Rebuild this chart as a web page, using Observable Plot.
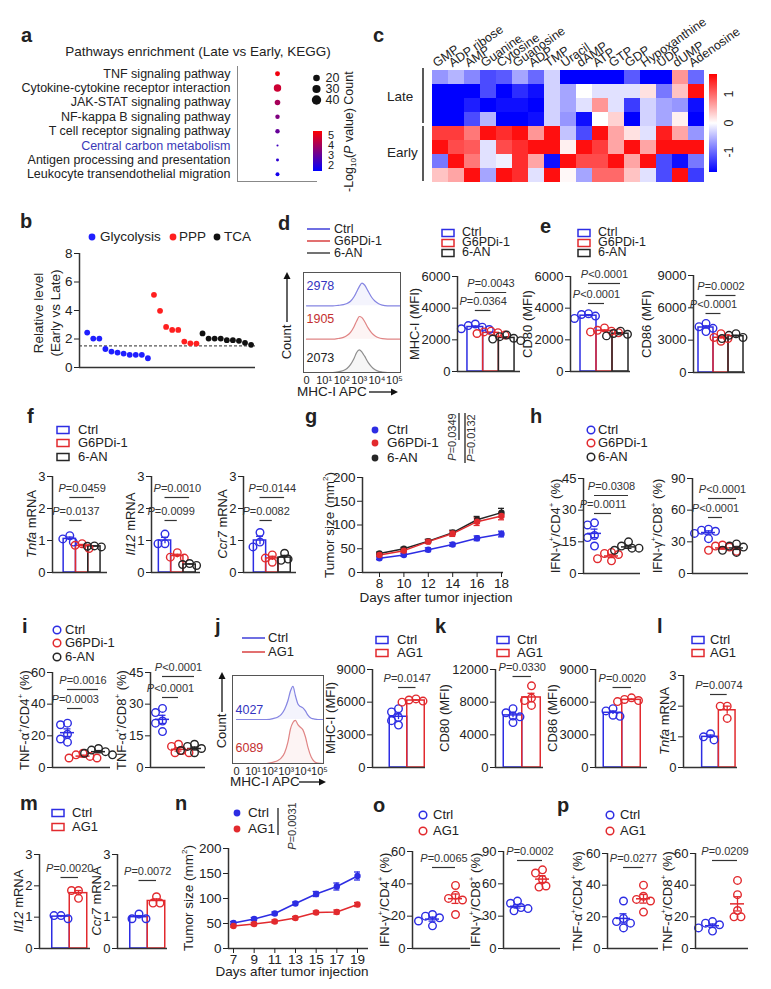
<!DOCTYPE html>
<html>
<head>
<meta charset="utf-8">
<script src="https://cdn.jsdelivr.net/npm/d3@7"></script>
<script src="https://cdn.jsdelivr.net/npm/@observablehq/plot@0.6"></script>
<style>
html,body{margin:0;padding:0;background:#fff;}
#fig{position:relative;width:771px;height:989px;overflow:hidden;background:#fff;font-family:"Liberation Sans",Arial,Helvetica,sans-serif;color:#222;}
#fig .t{position:absolute;white-space:nowrap;line-height:0.85;}
</style>
</head>
<body>
<div id="fig"></div>
<script>
// ================= DATA =================
// a: KEGG enrichment
const pathways = ["TNF signaling pathway","Cytokine-cytokine receptor interaction","JAK-STAT signaling pathway","NF-kappa B signaling pathway","T cell receptor signaling pathway","Central carbon metabolism","Antigen processing and presentation","Leukocyte transendothelial migration"];
const pathwayCount = [11, 25, 14, 9, 9, 2, 4, 7];
const pathwayLogP = [5.2, 4.6, 4.0, 3.4, 3.0, 2.4, 2.1, 1.7];
const countLegend = [20, 30, 40];
const logPTicks = [5, 4, 3, 2];
// c: heatmap
const metabolites = ["GMP","ADP ribose","AMP","Guanine","Cytosine","Guanosine","ADP","TMP","Uracil","dAMP","ATP","GTP","GDP","Hypoxanthine","UDP","dUMP","Adenosine"];
const heatGroups = ["Late","Early"];
const heatValues = [
 [-0.7,-0.5,-0.8,-1.2,-1.1,-0.6,-1.0,-0.3,-1.7,-1.7,-1.7,-1.7,-1.1,-1.7,-1.7,0.7,-1.0],
 [-1.7,-1.7,-1.7,-1.2,-1.7,-1.4,-1.6,-0.3,-0.6,0.0,-0.2,-0.2,-0.2,0.2,-0.9,0.4,1.6],
 [-1.7,-1.7,-1.5,-1.7,-1.6,-1.6,-1.7,-0.3,-0.6,-0.2,0.7,-0.2,-1.3,-0.3,-0.6,-0.7,-1.6],
 [-1.7,-1.7,-1.2,-0.5,-1.7,-1.7,-1.6,-0.3,-0.7,-1.6,0.0,0.3,-1.7,-0.3,-0.6,0.1,-1.7],
 [1.3,1.3,0.9,1.6,1.4,1.6,0.7,1.6,-0.4,-1.2,1.6,0.6,0.2,-0.2,1.5,0.6,-0.7],
 [1.6,1.2,1.1,-0.2,1.2,1.4,1.6,1.6,0.1,1.6,1.3,0.6,1.6,0.6,1.6,1.6,1.6],
 [-0.9,1.6,0.9,-0.2,-0.1,1.4,0.6,-1.6,1.6,1.2,1.2,1.6,0.6,1.6,-1.2,-1.6,-0.9],
 [0.4,0.6,1.6,-0.6,1.6,1.4,-0.2,1.6,0.05,-0.6,1.0,1.0,0.4,-0.2,-1.2,1.6,-1.3]
];
const heatTicks = [1, 0, -1];
// b
const pathwayGroups = ["Glycolysis","PPP","TCA"];
const glycolysis = [2.45,2.03,2.03,1.3,1.12,1.05,0.98,0.89,0.89,0.89,0.65];
const ppp = [5.1,3.98,2.85,2.64,2.64,1.82,1.7,1.68];
const tca = [2.39,2.03,2.03,2.03,1.92,1.92,1.87,1.73,1.59];
const cutoff = 1.52;
const bTicks = [0,2,4,6,8];
// groups
const groupsG6 = ["Ctrl","G6PDi-1","6-AN"];
const groupsAG1 = ["Ctrl","AG1"];
// d
const histTicks = [0,1,2,3,4,5];
const dHistX = [0,1.5,1.8,2.1,2.3,2.5,2.7,2.85,3.0,3.15,3.3,3.5,3.7,3.9,4.1,4.3,4.6,5.34];
const dHistCtrl = [0,0,0.02,0.05,0.1,0.2,0.4,0.62,0.85,1.0,0.92,0.65,0.38,0.2,0.09,0.03,0,0];
const dHistG6 = [0,0,0.03,0.08,0.16,0.3,0.55,0.8,1.0,0.95,0.78,0.5,0.28,0.14,0.06,0.02,0,0];
const dHist6AN = [0,0,0.03,0.09,0.18,0.35,0.62,0.88,1.0,0.9,0.72,0.45,0.25,0.12,0.05,0.02,0,0];
const dMFI = [2978, 1905, 2073];
const dMHCI = [[3000,2700,2800,2650,2900],[2550,2450,2300,2400,2500],[2300,2100,1950,2200,2050]];
const dP = ["P=0.0043","P=0.0364"];
// e
const eCD80 = [[3600,3650,3350,3500],[2750,2450,2550,2600,2500],[2400,2550,2250,2350]];
const eCD80P = ["P<0.0001","P<0.0001"];
const eCD86 = [[4550,4250,4100,3800],[3600,3250,3150,2900],[3450,3600,3250,3150]];
const eCD86P = ["P=0.0002","P<0.0001"];
// f
const fTnfa = [[1.05,1.15,0.95],[0.85,0.9,0.75],[0.82,0.8,0.83]];
const fTnfaP = ["P=0.0459","P=0.0137"];
const fIl12 = [[1.2,0.9,0.9],[0.62,0.48,0.45],[0.28,0.25,0.22]];
const fIl12P = ["P=0.0010","P=0.0099"];
const fCcr7 = [[1.25,0.8,0.95],[0.55,0.32,0.45],[0.6,0.38,0.42]];
const fCcr7P = ["P=0.0144","P=0.0082"];
// g
const gDays = [8,10,12,14,16,18];
const gCtrl = [30,37,48,59,72,81];
const gCtrlSem = [3,3,4,4,5,6];
const gG6 = [37,46,65,82,107,119];
const gG6Sem = [3,4,4,6,8,8];
const g6AN = [40,50,66,84,111,126];
const g6ANSem = [3,3,4,5,7,9];
const gP = ["P=0.0349","P=0.0132"];
const tumorTicks = [0,50,100,150,200];
// h
const hCD4 = [[24,23,18,17,13],[10,9.5,9,7,6],[15,13,12,11,12]];
const hCD4P = ["P=0.0308","P=0.0011"];
const hCD8 = [[42,41,40,38,33],[27,26,25,22,21],[28,26,25,22,20]];
const hCD8P = ["P<0.0001","P<0.0001"];
// i
const iCD4 = [[28,27,21,18,16],[9,8,7,6,6],[12,11,10,9,8]];
const iCD4P = ["P=0.0016","P=0.0003"];
const iCD8 = [[28,26,22,21,17],[11,10,8,7,7],[11,10,9,8,7]];
const iCD8P = ["P<0.0001","P<0.0001"];
// j
const jHistX = [0,1.8,2.2,2.5,2.7,2.9,3.1,3.25,3.4,3.55,3.7,3.85,4.0,4.15,4.3,4.5,4.7,4.9,5.24];
const jHistCtrl = [0,0,0.02,0.06,0.12,0.24,0.44,0.66,0.77,0.55,0.36,0.3,0.27,0.2,0.1,0.03,0.01,0,0];
const jHistAG1 = [0,0,0.03,0.07,0.13,0.25,0.5,0.8,0.95,1.0,0.9,0.84,0.78,0.62,0.38,0.15,0.04,0.01,0];
const jMFI = [4027, 6089];
const jMHCI = [[5400,5100,4600,4300,3900],[6300,6100,6000,6200]];
const jP = ["P=0.0147"];
// k
const kCD80 = [[7200,6700,6300,6200,5500],[10000,8500,8200,7600]];
const kCD80P = ["P=0.0330"];
const kCD86 = [[5400,5200,4800,4700],[6400,6250,6150,6050]];
const kCD86P = ["P=0.0020"];
// l
const lTnfa = [[1.1,1.0,0.9],[2.0,2.0,1.6]];
const lP = ["P=0.0074"];
// m
const mIl12 = [[0.95,1.05,1.05],[1.85,1.85,1.6]];
const mIl12P = ["P=0.0020"];
const mCcr7 = [[0.95,1.1,0.95],[1.65,1.45,1.45]];
const mCcr7P = ["P=0.0072"];
// n
const nDays = [7,9,11,13,15,17,19];
const nCtrl = [51,59,70,90,109,124,145];
const nCtrlSem = [3,3,3,3,5,7,8];
const nAG1 = [45,49,54,61,72,73,88];
const nAG1Sem = [2,3,3,3,3,4,4];
const nP = ["P=0.0031"];
// o
const oCD4 = [[21,20,19,17,14],[39,33,31,30,21]];
const oCD4P = ["P=0.0065"];
const oCD8 = [[44,42,38,37,35],[73,70,64,58,57]];
const oCD8P = ["P=0.0002"];
// p
const pCD4 = [[30,19,17,16,13],[40,33,31,30,23]];
const pCD4P = ["P=0.0277"];
const pCD8 = [[17,16,15,13,11],[43,34,24,20,20]];
const pCD8P = ["P=0.0209"];

// ================= HELPERS =================
const fig = document.getElementById("fig");
const NS = "http://www.w3.org/2000/svg";
const FONT = '"Liberation Sans", Arial, Helvetica, sans-serif';
const BLUE = "#2d2de3", RED = "#e22a2e", BLACK = "#262626", AX = "#333333";
const C3 = [BLUE, RED, BLACK], C2 = [BLUE, RED];
const baseStyle = {fontFamily: FONT, fontSize: "13px", color: "#222", background: "transparent", overflow: "visible"};

function T(x, y, html, o = {}) {
  const d = document.createElement("div");
  d.className = "t";
  d.style.left = x + "px"; d.style.top = y + "px";
  d.style.fontSize = (o.size || 13) + "px";
  if (o.color) d.style.color = o.color;
  if (o.lh) d.style.lineHeight = o.lh;
  const ax = o.anchor === "end" ? "-100%" : o.anchor === "middle" ? "-50%" : "0";
  d.style.transform = o.rot ? `translate(-50%,-50%) rotate(${o.rot}deg)` : `translate(${ax},-50%)`;
  d.innerHTML = html;
  fig.appendChild(d); return d;
}
function letter(x, base, ch) {
  const d = document.createElement("div"); d.className = "t";
  d.style.left = x + "px"; d.style.top = (base - 15.5) + "px";
  d.style.fontSize = "20px"; d.style.fontWeight = "bold"; d.textContent = ch;
  fig.appendChild(d);
}
const over = document.createElementNS(NS, "svg");
over.setAttribute("width", 771); over.setAttribute("height", 989);
over.style.cssText = "position:absolute;left:0;top:0;pointer-events:none;overflow:visible";
function el(tag, attrs) { const e = document.createElementNS(NS, tag); for (const k in attrs) e.setAttribute(k, attrs[k]); over.appendChild(e); return e; }
function L(x1, y1, x2, y2, color = AX, w = 1.5) { el("line", {x1, y1, x2, y2, stroke: color, "stroke-width": w}); }
function head(x, y, dir) {
  const p = dir === "up" ? `${x},${y} ${x-3.5},${y+7} ${x+3.5},${y+7}` : `${x},${y} ${x-7},${y-3.5} ${x-7},${y+3.5}`;
  el("polygon", {points: p, fill: "#111"});
}
function box(x, y, color) { el("rect", {x, y: y - 3.5, width: 12, height: 7, fill: "none", stroke: color, "stroke-width": 1.5}); }
function circ(x, y, color) { el("circle", {cx: x, cy: y, r: 3.8, fill: "none", stroke: color, "stroke-width": 1.5}); }
function fdot(x, y, color, r = 3.4) { el("circle", {cx: x, cy: y, r, fill: color}); }

function italicP(svg) {
  svg.querySelectorAll("text").forEach(t => {
    const s = t.textContent;
    if (/^P[=<]/.test(s) && t.childNodes.length === 1 && t.firstChild.nodeType === 3) {
      t.textContent = "";
      const ts = document.createElementNS(NS, "tspan");
      ts.setAttribute("font-style", "italic"); ts.textContent = "P";
      t.appendChild(ts); t.appendChild(document.createTextNode(s.slice(1)));
    }
  });
}
function placePlot(svg, left, top) {
  svg.style.position = "absolute";
  svg.style.left = left + "px"; svg.style.top = top + "px";
  svg.style.overflow = "visible"; svg.style.background = "transparent";
  fig.appendChild(svg); italicP(svg); return svg;
}
// simple beeswarm: px offsets so that open circles do not pile up
function dodge(vals, pxPerUnit, minD = 6.5, stepPx = 3.5) {
  const order = d3.range(vals.length).sort((a, b) => vals[b] - vals[a]);
  const placed = [], out = new Array(vals.length).fill(0);
  for (const i of order) {
    const y = vals[i] * pxPerUnit;
    const cands = [0];
    for (let k = 1; k < 8; k++) cands.push(k % 2 ? k * stepPx : -k * stepPx, k % 2 ? -k * stepPx : k * stepPx);
    for (const dx of cands) {
      if (placed.every(p => Math.hypot(p.x - dx, p.y - y) >= minD)) { out[i] = dx; placed.push({x: dx, y}); break; }
    }
  }
  return out;
}

function groupChart(c) {
  const ml = 50, mr = 12, mt = 50, mb = 12;
  const len = c.axisEnd - c.axisX;
  const xmin = -(c.c0 - c.axisX) / c.step;
  const xmax = xmin + len / c.step;
  const ymax = c.ymax;
  const pxPerUnit = (c.yBot - c.yTop) / ymax;
  const pxToY = px => (c.yBot - px) / (c.yBot - c.yTop) * ymax;
  const summ = c.values.map((v, i) => ({i, mean: d3.mean(v), sem: d3.deviation(v) / Math.sqrt(v.length), color: c.colors[i]}));
  const pts = c.values.flatMap((v, i) => { const o = dodge(v, pxPerUnit); return v.map((y, j) => ({x: i + o[j] / c.step, y, color: c.colors[i]})); });
  const sig = c.sig.map((s, k) => ({x1: s.a, x2: s.b, y: pxToY(s.ly), text: c.pText[k]}));
  const capW = 3.5 / c.step;
  const marks = [];
  if (c.bar) {
    marks.push(Plot.rectY(summ, {x1: d => d.i - 0.5, x2: d => d.i + 0.5, y1: d => 0, y2: "mean", stroke: "color", strokeWidth: 1.5, fill: "none"}));
  } else {
    marks.push(Plot.ruleY(summ, {y: "mean", x1: d => d.i - 7 / c.step, x2: d => d.i + 7 / c.step, stroke: "color", strokeWidth: 1.5}));
    marks.push(Plot.ruleY(summ, {y: d => d.mean - d.sem, x1: d => d.i - capW, x2: d => d.i + capW, stroke: "color", strokeWidth: 1.3}));
  }
  marks.push(Plot.ruleX(summ, {x: "i", y1: d => d.mean - d.sem, y2: d => d.mean + d.sem, stroke: "color", strokeWidth: 1.3}));
  marks.push(Plot.ruleY(summ, {y: d => d.mean + d.sem, x1: d => d.i - capW, x2: d => d.i + capW, stroke: "color", strokeWidth: 1.3}));
  marks.push(Plot.dot(pts, {x: "x", y: "y", stroke: "color", r: 3.8, strokeWidth: 1.4, fill: "none"}));
  marks.push(Plot.ruleX([xmin], {y1: () => 0, y2: () => ymax, stroke: AX, strokeWidth: 1.5}));
  marks.push(Plot.ruleY([0], {x1: () => xmin, x2: () => xmax, stroke: AX, strokeWidth: 1.5}));
  marks.push(Plot.axisY({ticks: c.ticks, tickSize: 5, tickPadding: 2, tickFormat: d => String(d), label: null, fontSize: 13}));
  marks.push(Plot.ruleY(sig, {y: "y", x1: "x1", x2: "x2", stroke: "#333", strokeWidth: 1.2}));
  marks.push(Plot.text(sig, {x: d => (d.x1 + d.x2) / 2, y: "y", text: "text", dy: -9, fontSize: 11, fill: "#333"}));
  const svg = Plot.plot({
    width: len + ml + mr, height: c.yBot - c.yTop + mt + mb,
    marginLeft: ml, marginRight: mr, marginTop: mt, marginBottom: mb,
    style: baseStyle,
    x: {domain: [xmin, xmax], axis: null}, y: {domain: [0, ymax]},
    color: {type: "identity"}, marks
  });
  placePlot(svg, c.axisX - ml, c.yTop - mt);
  if (c.ylabel) T(c.ylx, (c.yTop + c.yBot) / 2, c.ylabel, {rot: -90, size: 13});
}

function histChart(c) {
  const rows = c.series.length, mb = 22;
  const W = c.x1 - c.x0, H = c.y1 - c.y0;
  const data = c.series.flatMap((s, r) => c.grid.map((x, k) => ({x, base: rows - 1 - r, top: rows - 1 - r + s.vals[k] * c.peak, r, stroke: s.color, fill: s.fill})));
  const labels = c.mfi.map((v, r) => ({text: String(v), y: rows - 1 - r + c.mfiY[r], color: c.mfiColors[r]}));
  const svg = Plot.plot({
    width: W, height: H + mb, marginLeft: 0, marginRight: 0, marginTop: 0, marginBottom: mb,
    style: baseStyle,
    x: {domain: c.dom}, y: {domain: [0, rows], axis: null}, color: {type: "identity"},
    marks: [
      Plot.areaY(data, {x: "x", y1: "base", y2: "top", z: "r", fill: "fill", curve: "monotone-x"}),
      Plot.line(data, {x: "x", y: "top", z: "r", stroke: "stroke", strokeWidth: 1.2, curve: "monotone-x"}),
      Plot.frame({stroke: "#555", strokeWidth: 1}),
      Plot.axisX({ticks: histTicks, tickFormat: d => d === 0 ? "0" : "10" + "⁰¹²³⁴⁵"[d], tickSize: 0, tickPadding: 4, fontSize: 11, label: null}),
      Plot.text(labels, {x: () => c.dom[0], y: "y", text: "text", fill: "color", textAnchor: "start", dx: 3, fontSize: 12.5})
    ]
  });
  placePlot(svg, c.x0, c.y0);
}

function lineChart(c) {
  const ml = 45, mr = 8, mt = 8, mb = 30;
  const len = c.axisEnd - c.axisX;
  const ppd = (c.p1 - c.p0) / (c.days[c.days.length - 1] - c.days[0]);
  const xmin = c.days[0] - (c.p0 - c.axisX) / ppd;
  const xmax = xmin + len / ppd;
  const data = c.series.flatMap(s => c.days.map((day, k) => ({day, v: s.vals[k], sem: s.sem[k], color: s.color, key: s.key})));
  const cap = 3 / ppd;
  const svg = Plot.plot({
    width: len + ml + mr, height: c.yBot - c.yTop + mt + mb,
    marginLeft: ml, marginRight: mr, marginTop: mt, marginBottom: mb,
    style: baseStyle,
    x: {domain: [xmin, xmax]}, y: {domain: [0, c.ymax]}, color: {type: "identity"},
    marks: [
      Plot.ruleX(data, {x: "day", y1: d => d.v - d.sem, y2: d => d.v + d.sem, stroke: "color", strokeWidth: 1.3}),
      Plot.ruleY(data, {y: d => d.v + d.sem, x1: d => d.day - cap, x2: d => d.day + cap, stroke: "color", strokeWidth: 1.3}),
      Plot.ruleY(data, {y: d => d.v - d.sem, x1: d => d.day - cap, x2: d => d.day + cap, stroke: "color", strokeWidth: 1.3}),
      Plot.line(data, {x: "day", y: "v", z: "key", stroke: "color", strokeWidth: 1.5}),
      Plot.dot(data, {x: "day", y: "v", fill: "color", r: 3.2}),
      Plot.ruleX([xmin], {y1: () => 0, y2: () => c.ymax, stroke: AX, strokeWidth: 1.5}),
      Plot.ruleY([0], {x1: () => xmin, x2: () => xmax, stroke: AX, strokeWidth: 1.5}),
      Plot.axisY({ticks: c.yTicks, tickSize: 5, tickPadding: 2, tickFormat: d => String(d), label: null, fontSize: 13.5}),
      Plot.axisX({ticks: c.days, tickSize: 5, tickPadding: 1, tickFormat: d => String(d), label: null, fontSize: 13.5})
    ]
  });
  placePlot(svg, c.axisX - ml, c.yTop - mt);
  T(c.ylx, (c.yTop + c.yBot) / 2, "Tumor size (mm<sup style='font-size:8px'>2</sup>)", {rot: -90, size: 13.5});
  T(c.xlx, c.xly, "Days after tumor injection", {anchor: "middle", size: 13.5});
}

// ================= PANEL a =================
letter(21, 42, "a");
T(198, 52, "Pathways enrichment (Late vs Early, KEGG)", {anchor: "middle", size: 13.5});
{
  const rows = pathways.map((name, i) => ({name, i, count: pathwayCount[i], logp: pathwayLogP[i]}));
  const rScale = {type: "sqrt", domain: [0, 40], range: [0, 4.7]};
  const svg = Plot.plot({
    width: 300, height: 130, marginLeft: 217, marginRight: 3, marginTop: 6, marginBottom: 9,
    style: baseStyle,
    x: {domain: [-1, 1], axis: null},
    y: {domain: [pathways.length - 0.5, -0.5], axis: null},
    r: rScale,
    color: {type: "linear", domain: [1.4, 5.4], range: ["#0000ff", "#ff0000"], interpolate: "rgb"},
    marks: [
      Plot.ruleX([-1], {stroke: "#888", strokeWidth: 1}),
      Plot.ruleY([pathways.length - 0.5], {stroke: "#888", strokeWidth: 1}),
      Plot.dot(rows, {x: () => 0, y: "i", r: "count", fill: "logp"}),
      Plot.text(rows, {filter: d => d.name !== "Central carbon metabolism", y: "i", text: "name", frameAnchor: "left", textAnchor: "end", dx: -7, fill: "#222", fontSize: 12.5}),
      Plot.text(rows, {filter: d => d.name === "Central carbon metabolism", y: "i", text: "name", frameAnchor: "left", textAnchor: "end", dx: -7, fill: "#3a3ab8", fontSize: 12.5})
    ]
  });
  placePlot(svg, 20, 60);
  const leg = Plot.plot({
    width: 40, height: 33, marginLeft: 0, marginRight: 0, marginTop: 0, marginBottom: 0, style: baseStyle,
    x: {domain: [-1, 1], range: [0, 20], axis: null},
    y: {domain: [-0.5, 2.5], range: [0, 33], axis: null},
    r: rScale,
    marks: [
      Plot.dot(countLegend, {x: () => 0, y: (d, i) => i, r: d => d, fill: "#111"}),
      Plot.text(countLegend, {x: () => 0, y: (d, i) => i, text: d => String(d), textAnchor: "start", dx: 9, fontSize: 12.5})
    ]
  });
  placePlot(leg, 306, 71.5);
  T(349, 88, "Count", {rot: -90, size: 12.5});
  const cb = document.createElement("div");
  cb.style.cssText = "position:absolute;left:313px;top:131px;width:9px;height:40px;background:linear-gradient(to bottom,#ff0000,#0000ff);";
  fig.appendChild(cb);
  logPTicks.forEach(v => T(328, 171 - (v - 1.4) / 4 * 40, String(v), {size: 11, lh: 0.75}));
  T(351, 150, "-Log<sub style='font-size:8px'>10</sub>(<i>P</i> value)", {rot: -90, size: 12.5});
}

// ================= PANEL c =================
letter(373, 42, "c");
{
  const cells = heatValues.flatMap((row, r) => row.map((v, k) => ({r, m: metabolites[k], v})));
  const svg = Plot.plot({
    width: 273, height: 182, marginLeft: 0, marginRight: 0, marginTop: 70, marginBottom: 0,
    style: baseStyle,
    x: {domain: metabolites, padding: 0, axis: null},
    y: {domain: d3.range(heatValues.length), padding: 0, axis: null},
    color: {type: "linear", domain: [-1.7, 0, 1.7], range: ["#0000ff", "#ffffff", "#ff0000"], clamp: true},
    marks: [
      Plot.cell(cells, {x: "m", y: "r", fill: "v"}),
      Plot.text(metabolites, {x: d => d, frameAnchor: "top", rotate: -35, textAnchor: "start", lineAnchor: "bottom", dx: -4, dy: -3, fontSize: 12.5, fill: "#222"})
    ]
  });
  placePlot(svg, 431, 0);
  T(387, 97, heatGroups[0], {size: 13.5});
  T(387, 153, heatGroups[1], {size: 13.5});
  L(423, 68, 423, 123, "#222", 1.5);
  L(423, 126, 423, 181, "#222", 1.5);
  const cb = document.createElement("div");
  cb.style.cssText = "position:absolute;left:709px;top:74px;width:8px;height:98px;background:linear-gradient(to bottom,#ff0000,#ffffff 50%,#0000ff);";
  fig.appendChild(cb);
  heatTicks.forEach(v => T(729, 123 - v / 1.7 * 49, String(v), {rot: -90, size: 12.5}));
}

// ================= PANEL b =================
letter(20, 228, "b");
{
  const cols = ["#1f1fff", "#ff1f1f", "#111111"];
  const pts = [glycolysis, ppp, tca].flatMap((arr, g) => arr.map(v => ({v, g: pathwayGroups[g], c: cols[g]}))).map((d, i) => ({...d, i}));
  const axisX = 79, axisEnd = 255, yTop = 253, yBot = 367, step = 6.07, c0 = 86.7;
  const xmin = -(c0 - axisX) / step, xmax = xmin + (axisEnd - axisX) / step;
  const ml = 40, mr = 5, mt = 10, mb = 5;
  const svg = Plot.plot({
    width: axisEnd - axisX + ml + mr, height: yBot - yTop + mt + mb,
    marginLeft: ml, marginRight: mr, marginTop: mt, marginBottom: mb, style: baseStyle,
    x: {domain: [xmin, xmax], axis: null}, y: {domain: [0, 8]}, color: {type: "identity"},
    marks: [
      Plot.ruleY([cutoff], {x1: () => xmin, x2: () => xmax, stroke: "#555", strokeWidth: 1.2, strokeDasharray: "3,2"}),
      Plot.dot(pts, {x: "i", y: "v", fill: "c", r: 2.9}),
      Plot.ruleX([xmin], {y1: () => 0, y2: () => 8, stroke: AX, strokeWidth: 1.5}),
      Plot.ruleY([0], {x1: () => xmin, x2: () => xmax, stroke: AX, strokeWidth: 1.5}),
      Plot.axisY({ticks: bTicks, tickSize: 5, tickPadding: 2, tickFormat: d => String(d), label: null, fontSize: 13.5})
    ]
  });
  placePlot(svg, axisX - ml, yTop - mt);
  T(39, 313, "Relative level", {rot: -90, size: 13.5});
  T(56, 313, "(Early vs Late)", {rot: -90, size: 13.5});
  fdot(92, 237, cols[0], 3.4); T(100, 237, pathwayGroups[0], {size: 13.5});
  fdot(173, 237, cols[1], 3.4); T(179, 237, pathwayGroups[1], {size: 13.5});
  fdot(217, 237, cols[2], 3.4); T(224, 237, pathwayGroups[2], {size: 13.5});
}

// ================= PANEL d =================
letter(278, 230, "d");
L(307, 229, 330, 229, "#3f3fd8", 1.5); T(334, 229, groupsG6[0], {size: 12.5});
L(307, 241, 330, 241, "#d84040", 1.5); T(334, 241, groupsG6[1], {size: 12.5});
L(307, 253, 330, 253, "#444", 1.5); T(334, 253, groupsG6[2], {size: 12.5});
histChart({x0: 303, x1: 400, y0: 272, y1: 372, dom: [-0.17, 5.34], grid: dHistX,
  series: [{vals: dHistCtrl, color: "#8585e2", fill: "#f4f4fd"}, {vals: dHistG6, color: "#e08585", fill: "#fdf4f4"}, {vals: dHist6AN, color: "#8e8e8e", fill: "#f6f6f6"}],
  peak: 0.68, mfi: dMFI, mfiColors: ["#3434c0", "#c43030", "#222"], mfiY: [0.6, 0.62, 0.45]});
L(287, 322, 287, 278, "#111", 1.3); head(287, 272, "up");
T(287, 342, "Count", {rot: -90, size: 13});
T(297, 392, "MHC-I APC", {size: 13.5});
L(369, 392, 392, 392, "#111", 1.3); head(398, 392, "right");

box(442, 233, BLUE); T(462, 233, groupsG6[0], {size: 12.5, lh: 0.75});
box(442, 243, RED); T(462, 243, groupsG6[1], {size: 12.5, lh: 0.75});
box(442, 253, BLACK); T(462, 253, groupsG6[2], {size: 12.5, lh: 0.75});
groupChart({values: dMHCI, pText: dP, colors: C3, bar: true, axisX: 457, axisEnd: 520, c0: 474.8, step: 15.7,
  yTop: 276, yBot: 371, ymax: 6000, ticks: [0, 2000, 4000, 6000], sig: [{a: 0, b: 2, ly: 292}, {a: 0, b: 1, ly: 310}],
  ylabel: "MHC-I (MFI)", ylx: 415});

// ================= PANEL e =================
letter(540, 233, "e");
box(578, 233, BLUE); T(598, 233, groupsG6[0], {size: 12.5, lh: 0.75});
box(578, 243, RED); T(598, 243, groupsG6[1], {size: 12.5, lh: 0.75});
box(578, 253, BLACK); T(598, 253, groupsG6[2], {size: 12.5, lh: 0.75});
groupChart({values: eCD80, pText: eCD80P, colors: C3, bar: true, axisX: 570, axisEnd: 630, c0: 588, step: 16,
  yTop: 276, yBot: 371, ymax: 6000, ticks: [0, 2000, 4000, 6000], sig: [{a: 0, b: 2, ly: 283}, {a: 0, b: 1, ly: 303}],
  ylabel: "CD80 (MFI)", ylx: 528});
groupChart({values: eCD86, pText: eCD86P, colors: C3, bar: true, axisX: 693, axisEnd: 745, c0: 705.5, step: 15,
  yTop: 275, yBot: 372, ymax: 9000, ticks: [0, 3000, 6000, 9000], sig: [{a: 0, b: 2, ly: 295}, {a: 0, b: 1, ly: 313}],
  ylabel: "CD86 (MFI)", ylx: 647});

// ================= PANEL f =================
letter(27, 423, "f");
box(57, 430, BLUE); T(78, 430, groupsG6[0], {size: 13});
box(57, 443, RED); T(78, 443, groupsG6[1], {size: 13});
box(57, 457, BLACK); T(78, 457, groupsG6[2], {size: 13});
const mrnaTicks = [0, 1, 2, 3];
groupChart({values: fTnfa, pText: fTnfaP, colors: C3, bar: true, axisX: 52, axisEnd: 107, c0: 69.3, step: 12.3,
  yTop: 476, yBot: 572, ymax: 3, ticks: mrnaTicks, sig: [{a: 0, b: 2, ly: 497}, {a: 0, b: 1, ly: 520}],
  ylabel: "<i>Tnfa</i> mRNA", ylx: 32});
groupChart({values: fIl12, pText: fIl12P, colors: C3, bar: true, axisX: 151, axisEnd: 200, c0: 164.5, step: 12.3,
  yTop: 476, yBot: 572, ymax: 3, ticks: mrnaTicks, sig: [{a: 0, b: 2, ly: 497}, {a: 0, b: 1, ly: 520}],
  ylabel: "<i>Il12</i> mRNA", ylx: 131});
groupChart({values: fCcr7, pText: fCcr7P, colors: C3, bar: true, axisX: 243, axisEnd: 296, c0: 259.5, step: 12.3,
  yTop: 476, yBot: 572, ymax: 3, ticks: mrnaTicks, sig: [{a: 0, b: 2, ly: 497}, {a: 0, b: 1, ly: 520}],
  ylabel: "<i>Ccr7</i> mRNA", ylx: 223});

// ================= PANEL g =================
letter(305, 423, "g");
fdot(375, 430, BLUE); T(387, 430, groupsG6[0], {size: 13.5});
fdot(375, 443, RED); T(387, 443, groupsG6[1], {size: 13.5});
fdot(375, 458, BLACK); T(387, 458, groupsG6[2], {size: 13.5});
L(459, 413, 459, 440, "#222", 1.3);
L(465, 413, 465, 463, "#222", 1.3);
T(453, 437, "<i>P</i>" + gP[0].slice(1), {rot: -90, size: 11, color: "#333"});
T(472, 438, "<i>P</i>" + gP[1].slice(1), {rot: -90, size: 11, color: "#333"});
lineChart({axisX: 362, axisEnd: 503, yTop: 477, yBot: 572, ymax: 200, yTicks: tumorTicks, days: gDays, p0: 379, p1: 501,
  series: [{key: "Ctrl", vals: gCtrl, sem: gCtrlSem, color: BLUE}, {key: "6-AN", vals: g6AN, sem: g6ANSem, color: BLACK}, {key: "G6PDi-1", vals: gG6, sem: gG6Sem, color: RED}],
  ylx: 329, xlx: 436, xly: 598});

// ================= PANEL h =================
letter(530, 423, "h");
circ(591, 430, BLUE); T(598, 430, groupsG6[0], {size: 13});
circ(591, 443, RED); T(598, 443, groupsG6[1], {size: 13});
circ(591, 457, BLACK); T(598, 457, groupsG6[2], {size: 13});
groupChart({values: hCD4, pText: hCD4P, colors: C3, bar: false, axisX: 583, axisEnd: 640, c0: 594, step: 17,
  yTop: 478, yBot: 573, ymax: 45, ticks: [0, 15, 30, 45], sig: [{a: 0, b: 2, ly: 495}, {a: 0, b: 1, ly: 513}],
  ylabel: "IFN-γ<sup style='font-size:8px'>+</sup>/CD4<sup style='font-size:8px'>+</sup> (%)", ylx: 555});
groupChart({values: hCD8, pText: hCD8P, colors: C3, bar: false, axisX: 692, axisEnd: 748, c0: 708, step: 14,
  yTop: 478, yBot: 573, ymax: 90, ticks: [0, 30, 60, 90], sig: [{a: 0, b: 2, ly: 498}, {a: 0, b: 1, ly: 517}],
  ylabel: "IFN-γ<sup style='font-size:8px'>+</sup>/CD8<sup style='font-size:8px'>+</sup> (%)", ylx: 657});

// ================= PANEL i =================
letter(22, 633, "i");
circ(57, 630, BLUE); T(65, 630, groupsG6[0], {size: 13});
circ(57, 643, RED); T(65, 643, groupsG6[1], {size: 13});
circ(57, 657, BLACK); T(65, 657, groupsG6[2], {size: 13});
groupChart({values: iCD4, pText: iCD4P, colors: C3, bar: false, axisX: 52, axisEnd: 110, c0: 67, step: 15.5,
  yTop: 672, yBot: 767, ymax: 60, ticks: [0, 20, 40, 60], sig: [{a: 0, b: 2, ly: 689}, {a: 0, b: 1, ly: 708}],
  ylabel: "TNF-α<sup style='font-size:8px'>+</sup>/CD4<sup style='font-size:8px'>+</sup> (%)", ylx: 24});
groupChart({values: iCD8, pText: iCD8P, colors: C3, bar: false, axisX: 150, axisEnd: 205, c0: 162, step: 16,
  yTop: 672, yBot: 767, ymax: 45, ticks: [0, 15, 30, 45], sig: [{a: 0, b: 2, ly: 676}, {a: 0, b: 1, ly: 697}],
  ylabel: "TNF-α<sup style='font-size:8px'>+</sup>/CD8<sup style='font-size:8px'>+</sup> (%)", ylx: 121});

// ================= PANEL j =================
letter(215, 633, "j");
L(242, 638, 265, 638, "#3f3fd8", 1.5); T(268, 638, groupsAG1[0], {size: 13});
L(242, 652, 265, 652, "#d84040", 1.5); T(268, 652, groupsAG1[1], {size: 13});
histChart({x0: 232, x1: 323, y0: 675, y1: 763, dom: [-0.24, 5.24], grid: jHistX,
  series: [{vals: jHistCtrl, color: "#8585e2", fill: "#f4f4fd"}, {vals: jHistAG1, color: "#e08585", fill: "#fdf4f4"}],
  peak: 0.98, mfi: jMFI, mfiColors: ["#3434c0", "#c43030"], mfiY: [0.22, 0.36]});
L(222, 712, 222, 678, "#111", 1.3); head(222, 672, "up");
T(222, 731, "Count", {rot: -90, size: 13});
T(230, 782, "MHC-I APC", {size: 13.5});
L(299, 782, 320, 782, "#111", 1.3); head(326, 782, "right");
box(376, 640, BLUE); T(397, 640, groupsAG1[0], {size: 13});
box(376, 653, RED); T(397, 653, groupsAG1[1], {size: 13});
groupChart({values: jMHCI, pText: jP, colors: C2, bar: true, axisX: 372, axisEnd: 425, c0: 398, step: 17.5,
  yTop: 669, yBot: 767, ymax: 9000, ticks: [0, 3000, 6000, 9000], sig: [{a: 0, b: 1, ly: 687}],
  ylabel: "MHC-I (MFI)", ylx: 331});

// ================= PANEL k =================
letter(435, 633, "k");
box(497, 640, BLUE); T(517, 640, groupsAG1[0], {size: 13});
box(497, 653, RED); T(517, 653, groupsAG1[1], {size: 13});
groupChart({values: kCD80, pText: kCD80P, colors: C2, bar: true, axisX: 495, axisEnd: 543, c0: 512.5, step: 18.5,
  yTop: 669, yBot: 767, ymax: 12000, ticks: [0, 4000, 8000, 12000], sig: [{a: 0, b: 1, ly: 676}],
  ylabel: "CD80 (MFI)", ylx: 445});
groupChart({values: kCD86, pText: kCD86P, colors: C2, bar: true, axisX: 595, axisEnd: 647, c0: 612.5, step: 18.5,
  yTop: 669, yBot: 767, ymax: 9000, ticks: [0, 3000, 6000, 9000], sig: [{a: 0, b: 1, ly: 687}],
  ylabel: "CD86 (MFI)", ylx: 553});

// ================= PANEL l =================
letter(657, 633, "l");
box(692, 640, BLUE); T(710, 640, groupsAG1[0], {size: 13});
box(692, 653, RED); T(710, 653, groupsAG1[1], {size: 13});
groupChart({values: lTnfa, pText: lP, colors: C2, bar: true, axisX: 683, axisEnd: 737, c0: 710, step: 16.7,
  yTop: 675, yBot: 767, ymax: 3, ticks: mrnaTicks, sig: [{a: 0, b: 1, ly: 694}],
  ylabel: "<i>Tnfa</i> mRNA", ylx: 665});

// ================= PANEL m =================
letter(20, 810, "m");
box(52, 813, BLUE); T(72, 813, groupsAG1[0], {size: 13});
box(52, 827, RED); T(72, 827, groupsAG1[1], {size: 13});
groupChart({values: mIl12, pText: mIl12P, colors: C2, bar: true, axisX: 39, axisEnd: 90, c0: 60.5, step: 17.5,
  yTop: 854, yBot: 948, ymax: 3, ticks: mrnaTicks, sig: [{a: 0, b: 1, ly: 877}],
  ylabel: "<i>Il12</i> mRNA", ylx: 19});
groupChart({values: mCcr7, pText: mCcr7P, colors: C2, bar: true, axisX: 117, axisEnd: 167, c0: 138.5, step: 17.5,
  yTop: 854, yBot: 948, ymax: 3, ticks: mrnaTicks, sig: [{a: 0, b: 1, ly: 880}],
  ylabel: "<i>Ccr7</i> mRNA", ylx: 97});

// ================= PANEL n =================
letter(175, 810, "n");
fdot(237, 813, BLUE); T(248, 813, groupsAG1[0], {size: 13.5});
fdot(237, 829, RED); T(248, 829, groupsAG1[1], {size: 13.5});
L(278, 808, 278, 835, "#222", 1.3);
T(293, 826, "<i>P</i>" + nP[0].slice(1), {rot: -90, size: 11, color: "#333"});
lineChart({axisX: 228, axisEnd: 368, yTop: 848, yBot: 948, ymax: 200, yTicks: tumorTicks, days: nDays, p0: 233, p1: 357,
  series: [{key: "Ctrl", vals: nCtrl, sem: nCtrlSem, color: BLUE}, {key: "AG1", vals: nAG1, sem: nAG1Sem, color: RED}],
  ylx: 188, xlx: 292, xly: 972});

// ================= PANEL o =================
letter(373, 812, "o");
circ(423, 815, BLUE); T(433, 815, groupsAG1[0], {size: 13});
circ(423, 831, RED); T(433, 831, groupsAG1[1], {size: 13});
groupChart({values: oCD4, pText: oCD4P, colors: C2, bar: false, axisX: 412, axisEnd: 470, c0: 432, step: 23,
  yTop: 851, yBot: 948, ymax: 60, ticks: [0, 20, 40, 60], sig: [{a: 0, b: 1, ly: 867}],
  ylabel: "IFN-γ<sup style='font-size:8px'>+</sup>/CD4<sup style='font-size:8px'>+</sup> (%)", ylx: 384});
groupChart({values: oCD8, pText: oCD8P, colors: C2, bar: false, axisX: 503, axisEnd: 560, c0: 517, step: 25,
  yTop: 851, yBot: 948, ymax: 90, ticks: [0, 30, 60, 90], sig: [{a: 0, b: 1, ly: 860}],
  ylabel: "IFN-γ<sup style='font-size:8px'>+</sup>/CD8<sup style='font-size:8px'>+</sup> (%)", ylx: 475});

// ================= PANEL p =================
letter(557, 812, "p");
circ(610, 815, BLUE); T(620, 815, groupsAG1[0], {size: 13});
circ(610, 831, RED); T(620, 831, groupsAG1[1], {size: 13});
groupChart({values: pCD4, pText: pCD4P, colors: C2, bar: false, axisX: 607, axisEnd: 658, c0: 623, step: 20,
  yTop: 853, yBot: 948, ymax: 60, ticks: [0, 20, 40, 60], sig: [{a: 0, b: 1, ly: 867}],
  ylabel: "TNF-α<sup style='font-size:8px'>+</sup>/CD4<sup style='font-size:8px'>+</sup> (%)", ylx: 577});
groupChart({values: pCD8, pText: pCD8P, colors: C2, bar: false, axisX: 695, axisEnd: 748, c0: 712, step: 25,
  yTop: 853, yBot: 948, ymax: 60, ticks: [0, 20, 40, 60], sig: [{a: 0, b: 1, ly: 860}],
  ylabel: "TNF-α<sup style='font-size:8px'>+</sup>/CD8<sup style='font-size:8px'>+</sup> (%)", ylx: 667});

fig.appendChild(over);
</script>
</body>
</html>
